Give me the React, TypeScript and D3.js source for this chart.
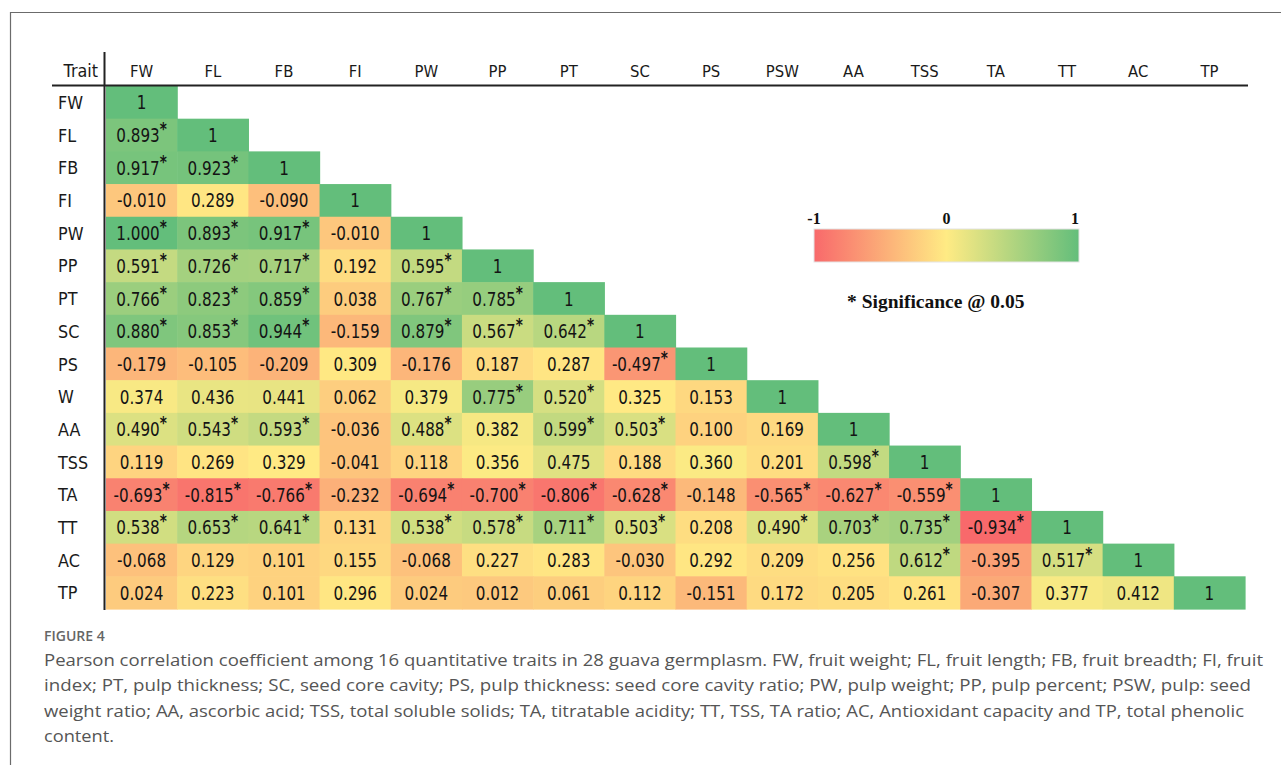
import React from 'react';
import * as d3 from 'd3';

const width = 1281;
const height = 765;

const traits = ['FW', 'FL', 'FB', 'FI', 'PW', 'PP', 'PT', 'SC', 'PS', 'PSW', 'AA', 'TSS', 'TA', 'TT', 'AC', 'TP'];
const rowLabels = ['FW', 'FL', 'FB', 'FI', 'PW', 'PP', 'PT', 'SC', 'PS', 'W', 'AA', 'TSS', 'TA', 'TT', 'AC', 'TP'];

// lower triangle, row by row (diagonal = 1)
const values: number[][] = [
  [1],
  [0.893, 1],
  [0.917, 0.923, 1],
  [-0.010, 0.289, -0.090, 1],
  [1.000, 0.893, 0.917, -0.010, 1],
  [0.591, 0.726, 0.717, 0.192, 0.595, 1],
  [0.766, 0.823, 0.859, 0.038, 0.767, 0.785, 1],
  [0.880, 0.853, 0.944, -0.159, 0.879, 0.567, 0.642, 1],
  [-0.179, -0.105, -0.209, 0.309, -0.176, 0.187, 0.287, -0.497, 1],
  [0.374, 0.436, 0.441, 0.062, 0.379, 0.775, 0.520, 0.325, 0.153, 1],
  [0.490, 0.543, 0.593, -0.036, 0.488, 0.382, 0.599, 0.503, 0.100, 0.169, 1],
  [0.119, 0.269, 0.329, -0.041, 0.118, 0.356, 0.475, 0.188, 0.360, 0.201, 0.598, 1],
  [-0.693, -0.815, -0.766, -0.232, -0.694, -0.700, -0.806, -0.628, -0.148, -0.565, -0.627, -0.559, 1],
  [0.538, 0.653, 0.641, 0.131, 0.538, 0.578, 0.711, 0.503, 0.208, 0.490, 0.703, 0.735, -0.934, 1],
  [-0.068, 0.129, 0.101, 0.155, -0.068, 0.227, 0.283, -0.030, 0.292, 0.209, 0.256, 0.612, -0.395, 0.517, 1],
  [0.024, 0.223, 0.101, 0.296, 0.024, 0.012, 0.061, 0.112, -0.151, 0.172, 0.205, 0.261, -0.307, 0.377, 0.412, 1],
];

// 1 = significant at 0.05
const stars: number[][] = [
  [0],
  [1, 0],
  [1, 1, 0],
  [0, 0, 0, 0],
  [1, 1, 1, 0, 0],
  [1, 1, 1, 0, 1, 0],
  [1, 1, 1, 0, 1, 1, 0],
  [1, 1, 1, 0, 1, 1, 1, 0],
  [0, 0, 0, 0, 0, 0, 0, 1, 0],
  [0, 0, 0, 0, 0, 1, 1, 0, 0, 0],
  [1, 1, 1, 0, 1, 0, 1, 1, 0, 0, 0],
  [0, 0, 0, 0, 0, 0, 0, 0, 0, 0, 1, 0],
  [1, 1, 1, 0, 1, 1, 1, 1, 0, 1, 1, 1, 0],
  [1, 1, 1, 0, 1, 1, 1, 1, 0, 1, 1, 1, 1, 0],
  [0, 0, 0, 0, 0, 0, 0, 0, 0, 0, 0, 1, 0, 1, 0],
  [0, 0, 0, 0, 0, 0, 0, 0, 0, 0, 0, 0, 0, 0, 0, 0],
];

const legendTicks = ['-1', '0', '1'];

const captionTitle = 'FIGURE 4';
const captionLines = [
  'Pearson correlation coefficient among 16 quantitative traits in 28 guava germplasm. FW, fruit weight; FL, fruit length; FB, fruit breadth; FI, fruit',
  'index; PT, pulp thickness; SC, seed core cavity; PS, pulp thickness: seed core cavity ratio; PW, pulp weight; PP, pulp percent; PSW, pulp: seed',
  'weight ratio; AA, ascorbic acid; TSS, total soluble solids; TA, titratable acidity; TT, TSS, TA ratio; AC, Antioxidant capacity and TP, total phenolic',
  'content.',
];
const captionWidths = [1219, 1207, 1200, 70];

const RED = '#f8696b';
const YELLOW = '#ffeb84';
const GREEN = '#63be7b';

const labelFont = '"DejaVu Sans", sans-serif';
const serif = '"Liberation Serif", "Times New Roman", serif';

const App = () => {
  const x = d3.scaleBand().domain(traits).range([106, 1245]);
  const y = d3.scaleBand().domain(rowLabels).range([86, 609]);

  const flat = values.flat();
  const color = d3
    .scaleLinear<string>()
    .domain([d3.min(flat)!, d3.median(flat)!, d3.max(flat)!])
    .range([RED, YELLOW, GREEN])
    .interpolate(d3.interpolateRgb);

  const legend = d3.scaleLinear().domain([-1, 1]).range([814, 1079]);

  return (
    <svg width={width} height={height} style={{ position: 'absolute', left: 0, top: 0 }}>
      <rect x={0} y={0} width={width} height={height} fill="#fff" />
      {/* frame */}
      <path d={`M10.5,${height}V12.5H${width}`} fill="none" stroke="#6b6b6b" strokeWidth={1.2} />

      {/* cells */}
      {values.map((row, i) =>
        row.map((v, j) => (
          <rect
            key={`c${i}-${j}`}
            x={x(traits[j])!}
            y={y(rowLabels[i])!}
            width={x.bandwidth() + 0.6}
            height={y.bandwidth() + 0.6}
            fill={color(v)}
          />
        ))
      )}

      {/* cell values */}
      {values.map((row, i) =>
        row.map((v, j) => {
          const cx = x(traits[j])! + x.bandwidth() / 2;
          const cy = y(rowLabels[i])! + y.bandwidth() / 2;
          return (
            <text
              key={`t${i}-${j}`}
              transform={`translate(${cx},${cy}) scale(0.8,1)`}
              dy="0.37em"
              textAnchor="middle"
              fontFamily={labelFont}
              fontSize={19}
              fill="#141414"
            >
              {i === j ? '1' : v.toFixed(3)}
              {stars[i][j] ? (
                <tspan dy="-7" fontSize={17} fontWeight="bold">*</tspan>
              ) : null}
            </text>
          );
        })
      )}

      {/* column headers */}
      <text transform="translate(98,77) scale(0.89,1)" textAnchor="end" fontFamily={labelFont} fontSize={18} fill="#1a1a1a">Trait</text>
      {traits.map(t => (
        <text
          key={`h${t}`}
          transform={`translate(${x(t)! + x.bandwidth() / 2},77) scale(0.9,1)`}
          textAnchor="middle"
          fontFamily={labelFont}
          fontSize={16.5}
          fill="#1a1a1a"
        >
          {t}
        </text>
      ))}

      {/* row labels */}
      {rowLabels.map(r => (
        <text
          key={`r${r}`}
          transform={`translate(58,${y(r)! + y.bandwidth() / 2}) scale(0.89,1)`}
          dy="0.37em"
          fontFamily={labelFont}
          fontSize={18}
          fill="#1a1a1a"
        >
          {r}
        </text>
      ))}

      {/* axis lines */}
      <line x1={52} x2={1248} y1={85.5} y2={85.5} stroke="#222" strokeWidth={2} />
      <line x1={104.5} x2={104.5} y1={52} y2={610} stroke="#222" strokeWidth={2} />

      {/* legend */}
      <defs>
        <linearGradient id="lg" x1="0" x2="1" y1="0" y2="0">
          <stop offset="0%" stopColor={RED} />
          <stop offset="50%" stopColor={YELLOW} />
          <stop offset="100%" stopColor={GREEN} />
        </linearGradient>
      </defs>
      <rect x={legend(-1)} y={229} width={legend(1) - legend(-1)} height={33} fill="url(#lg)" stroke="#e4e4e4" strokeWidth={1} />
      {legendTicks.map(t => (
        <text
          key={`l${t}`}
          x={legend(+t) + (t === '1' ? -4 : 0)}
          y={224}
          textAnchor="middle"
          fontFamily={serif}
          fontWeight="bold"
          fontSize={16}
          fill="#111"
        >
          {t}
        </text>
      ))}
      <text x={847} y={308} fontFamily={serif} fontWeight="bold" fontSize={19.5} fill="#111">
        * Significance @ 0.05
      </text>

      {/* caption */}
      <text x={44} y={641} fontFamily='"Open Sans", sans-serif' fontWeight={600} fontSize={14} fill="#666">
        {captionTitle}
      </text>
      {captionLines.map((line, k) => (
        <text
          key={`cap${k}`}
          x={44}
          y={666 + k * 25.3}
          fontFamily='"Open Sans", sans-serif'
          fontSize={16.5}
          fill="#555"
          textLength={captionWidths[k]}
          lengthAdjust="spacingAndGlyphs"
        >
          {line}
        </text>
      ))}
    </svg>
  );
};

export default App;
